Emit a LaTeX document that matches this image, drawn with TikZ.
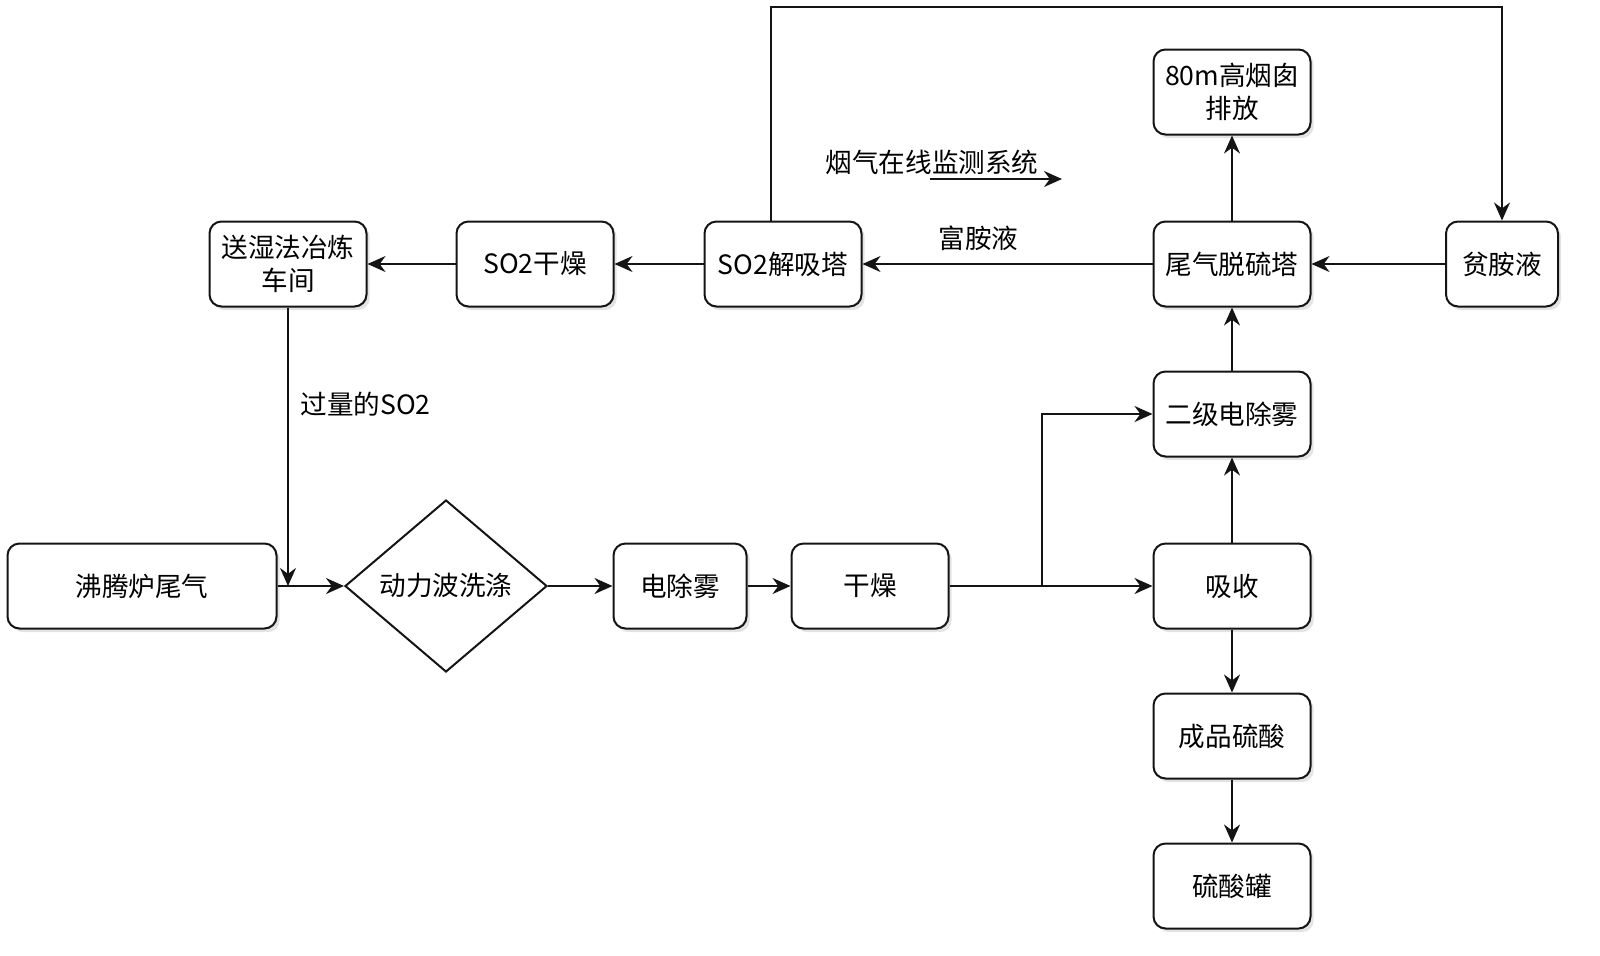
\documentclass[tikz,border=0pt]{standalone}
\usepackage{fontspec}
\setmainfont{Noto Sans CJK SC}
\usepackage{xcolor}
\usetikzlibrary{positioning,calc,shapes.geometric,arrows.meta,shadows}

\begin{document}
\begin{tikzpicture}[x=0.5pt,y=-0.5pt]
	\definecolor{lnclr}{RGB}{20,20,20}
	\tikzset{
		proc/.style={
			draw=lnclr, fill=white, line width=1pt, rounded corners=6pt,
			minimum width=78.5pt, minimum height=42.5pt, inner sep=2pt,
			align=center, font=\fontsize{13.3pt}{16.5pt}\selectfont,
			drop shadow={opacity=0.22, shadow xshift=1.6pt, shadow yshift=-1.8pt}
		},
		wash/.style={
			diamond, draw=lnclr, fill=white, line width=1pt,
			minimum width=101pt, minimum height=86pt, inner sep=1pt,
			font=\fontsize{13.3pt}{16.5pt}\selectfont
		},
		flow/.style={
			-{Stealth[length=9pt,width=8pt]},
			draw=lnclr, line width=1pt
		},
		lbl/.style={font=\fontsize{13.3pt}{16.5pt}\selectfont, inner sep=1pt}
	}
	\useasboundingbox (0,0) rectangle (1600,955);

	% ======= bottom row =======
	\node[proc, minimum width=134.5pt] (feiteng) at (142,586) {沸腾炉尾气};
	\node[wash] (xidi) at (446,586) {\raisebox{2pt}{动力波洗涤}};
	\node[proc, minimum width=66.5pt] (chuwu) at (680,586) {电除雾};
	\node[proc] (ganzao) at (870,586) {干燥};
	\node[proc] (xishou) at (1232,586) {吸收};

	% ======= right column =======
	\node[proc] (erji) at (1232,414) {二级电除雾};
	\node[proc] (tuoliu) at (1232,264) {尾气脱硫塔};
	\node[proc] (yancong) at (1232,92) {80m高烟囱\\排放};
	\node[proc] (chengpin) at (1232,736) {成品硫酸};
	\node[proc] (guan) at (1232,886) {硫酸罐};
	\node[proc, minimum width=56pt] (pinan) at (1502,264) {贫胺液};

	% ======= top row =======
	\node[proc] (jiexi) at (783,264) {SO2解吸塔};
	\node[proc] (so2gz) at (535,264) {SO2干燥};
	\node[proc] (songshi) at (288,264) {送湿法冶炼\\车间};

	% ======= connectors =======
	\draw[flow] (feiteng) -- (xidi);
	\draw[flow] (songshi.south) -- (songshi.south |- feiteng.east);
	\node[lbl, anchor=west] (guoliang) at (298,404) {过量的SO2};
	\draw[flow] (xidi) -- (chuwu);
	\draw[flow] (chuwu) -- (ganzao);
	\draw[flow] (ganzao) -- (xishou);
	\coordinate (fen) at (1042,586);
	\draw[flow] (fen) |- (erji);
	\draw[flow] (xishou) -- (erji);
	\draw[flow] (erji) -- (tuoliu);
	\draw[flow] (tuoliu) -- (yancong);
	\draw[flow] (xishou) -- (chengpin);
	\draw[flow] (chengpin) -- (guan);
	\draw[flow] (pinan) -- (tuoliu);
	\draw[flow] (tuoliu) -- node[lbl, pos=0.6, above=5pt] (fuan) {富胺液} (jiexi);
	\draw[flow] (jiexi) -- (so2gz);
	\draw[flow] (so2gz) -- (songshi);

	% ======= loop back to 贫胺液 =======
	\coordinate (ding) at (1100,7);
	\draw[flow] ([xshift=-6pt]jiexi.north) |- (ding) -| (pinan.north);

	% ======= monitor =======
	\node[lbl] (jiance) at (932,162) {烟气在线监测系统};
	\coordinate (jc1) at (930,179);
	\coordinate (jc2) at (1062,179);
	\draw[flow] (jc1) -- (jc2);
\end{tikzpicture}
\end{document}
